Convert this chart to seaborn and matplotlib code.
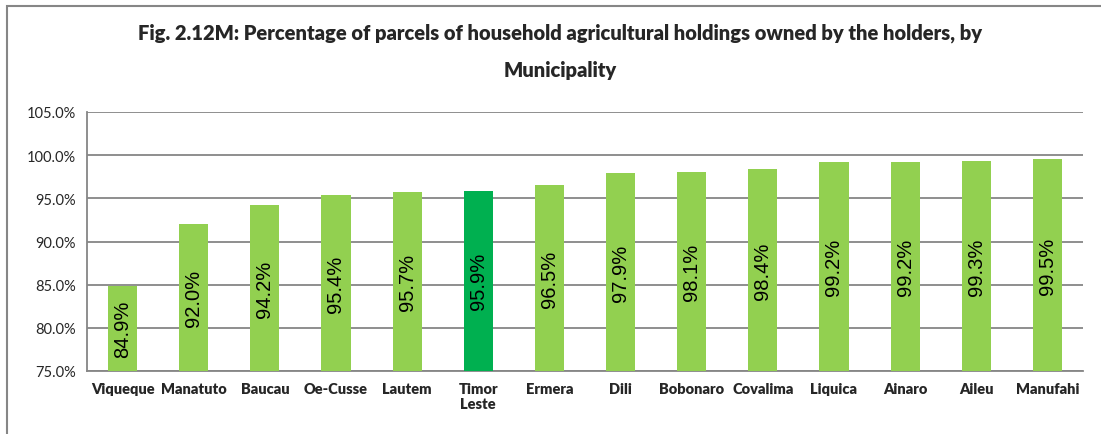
import matplotlib
matplotlib.use("Agg")
import matplotlib.pyplot as plt
import matplotlib.patches as patches
from matplotlib.ticker import FixedLocator, FuncFormatter
import pandas as pd
import seaborn as sns

# values
municipalities = ["Viqueque", "Manatuto", "Baucau", "Oe-Cusse", "Lautem", "Timor\nLeste",
                  "Ermera", "Dili", "Bobonaro", "Covalima", "Liquica", "Ainaro",
                  "Aileu", "Manufahi"]
pct_owned = [84.9, 92.0, 94.2, 95.4, 95.7, 95.9, 96.5, 97.9, 98.1, 98.4, 99.2, 99.2, 99.3, 99.5]
y_ticks = [75, 80, 85, 90, 95, 100, 105]

LIGHT = "#92D050"
DARK = "#00B050"
GREY = "#868686"

df = pd.DataFrame({"muni": municipalities, "pct": pct_owned})
palette = {m: (DARK if m.startswith("Timor") else LIGHT) for m in municipalities}

sns.set_style("white")
plt.rcParams["font.family"] = ["Lato", "DejaVu Sans"]

fig = plt.figure(figsize=(11.01, 4.35), dpi=100)
ax = fig.add_axes([87 / 1101, 1 - 372 / 435, (1083 - 87) / 1101, (372 - 113) / 435])

sns.barplot(data=df, x="muni", y="pct", hue="muni", palette=palette, legend=False,
            width=0.41, saturation=1, linewidth=0, ax=ax, zorder=3)

for cont in ax.containers:
    ax.bar_label(cont, fmt="%.1f%%", label_type="center", rotation=90,
                 fontsize=14.5, family="Liberation Sans", color="black")

ax.set_ylim(75, 105)
ax.set_xlim(-0.5, len(municipalities) - 0.5)
ax.yaxis.set_major_locator(FixedLocator(y_ticks))
ax.yaxis.set_major_formatter(FuncFormatter(lambda v, p: f"{v:.1f}%"))
ax.grid(axis="y", color=GREY, lw=1.3, zorder=0)
ax.set_axisbelow(True)

ax.set_xlabel("")
ax.set_ylabel("")
ax.tick_params(axis="x", which="major", length=0, pad=8, labelsize=10.5)
for lab in ax.get_xticklabels():
    lab.set_fontweight("heavy")
ax.set_xticks([i - 0.5 for i in range(len(municipalities) + 1)], minor=True)
ax.tick_params(axis="x", which="minor", length=5, width=1.3, color=GREY, direction="out")
ax.tick_params(axis="y", length=5, width=1.3, color=GREY, direction="out", labelsize=10.5, pad=3)

for s in ["top", "right"]:
    ax.spines[s].set_visible(False)
for s in ["left", "bottom"]:
    ax.spines[s].set_color(GREY)
    ax.spines[s].set_linewidth(1.3)

fig.text(0.509, 1 - 33 / 435, "Fig. 2.12M: Percentage of parcels of household agricultural holdings owned by the holders, by",
         ha="center", va="center", fontsize=14.5, fontweight="heavy")
fig.text(0.509, 1 - 70 / 435, "Municipality", ha="center", va="center", fontsize=14.5, fontweight="heavy")

# chart area border (left + top visible in the crop)
fig.patches.append(patches.Rectangle((7 / 1101, -0.1), 1.2, 1 - 7 / 435 + 0.1,
                                     transform=fig.transFigure, fill=False,
                                     edgecolor=GREY, lw=1.5))

fig.savefig("out.png", dpi=100)
